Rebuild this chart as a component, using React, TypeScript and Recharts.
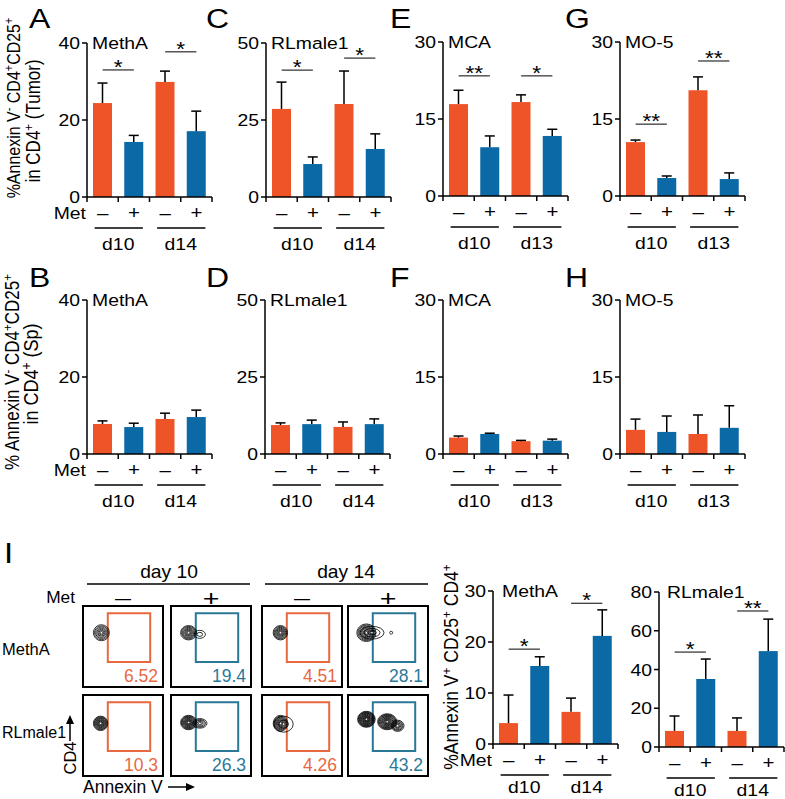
import React from 'react';
import { BarChart, Bar, XAxis, YAxis, ReferenceLine, ScatterChart, Scatter, ReferenceArea } from 'recharts';

const FONT = '"Liberation Sans", Arial, Helvetica, sans-serif';
const ORANGE = '#EE5428';
const BLUE = '#0B6AA6';
const GATE_ORANGE = '#E8683F';
const GATE_BLUE = '#2A7898';
const SX = 1.14;

// ---------- categories ----------
const conditions = ['d1-', 'd1+', 'd2-', 'd2+'];
const metSigns = ['–', '+', '–', '+'];
const daysD14 = ['d10', 'd14'];
const daysD13 = ['d10', 'd13'];

// ---------- A–G: % Annexin V- CD4+CD25+ in CD4+ (Tumor) ----------
const methaTumorMean = [24.4, 14.3, 29.9, 17.1];
const methaTumorErr = [5.2, 1.7, 2.8, 5.2];
const methaTumorSigY = [33.0, 37.7];
const methaTumorSigMark = ['*', '*'];

const rlTumorMean = [28.6, 10.7, 30.2, 15.6];
const rlTumorErr = [8.7, 2.3, 10.7, 4.9];
const rlTumorSigY = [41.2, 45.1];
const rlTumorSigMark = ['*', '*'];

const mcaTumorMean = [17.9, 9.5, 18.3, 11.7];
const mcaTumorErr = [2.7, 2.2, 1.4, 1.3];
const mcaTumorSigY = [23.4, 23.4];
const mcaTumorSigMark = ['**', '*'];

const mo5TumorMean = [10.5, 3.5, 20.6, 3.3];
const mo5TumorErr = [0.4, 0.4, 2.6, 1.2];
const mo5TumorSigY = [14.0, 26.3];
const mo5TumorSigMark = ['**', '**'];

// ---------- B–H: spleen ----------
const methaSpMean = [7.8, 7.0, 9.1, 9.6];
const methaSpErr = [0.8, 1.0, 1.5, 1.8];
const rlSpMean = [9.4, 9.7, 8.8, 9.7];
const rlSpErr = [0.7, 1.3, 1.6, 1.7];
const mcaSpMean = [3.2, 3.9, 2.5, 2.6];
const mcaSpErr = [0.3, 0.15, 0.15, 0.3];
const mo5SpMean = [4.7, 4.3, 3.9, 5.1];
const mo5SpErr = [2.1, 3.1, 3.7, 4.3];

// ---------- I: % Annexin V+ CD25+ CD4+ ----------
const methaApopMean = [4.1, 15.3, 6.3, 21.2];
const methaApopErr = [5.5, 1.8, 2.7, 5.1];
const methaApopSigY = [18.6, 27.6];
const methaApopSigMark = ['*', '*'];

const rlApopMean = [8.3, 35.1, 8.3, 49.5];
const rlApopErr = [7.7, 10.3, 6.7, 16.5];
const rlApopSigY = [49, 70.2];
const rlApopSigMark = ['*', '**'];

// ---------- I: flow cytometry ----------
const flowValuesMethA = ['6.52', '19.4', '4.51', '28.1'];
const flowValuesRL = ['10.3', '26.3', '4.26', '43.2'];
const gateX = [31, 84];
const gateY = [31, 91];
const blobsMethA = [
  [{ x: 23, y: 67, sx: 10, sy: 10, n: 7 }],
  [{ x: 22, y: 67, sx: 10, sy: 9, n: 8 }, { x: 36, y: 65, sx: 7, sy: 5, n: 2 }],
  [{ x: 23, y: 67, sx: 9, sy: 9, n: 8 }],
  [{ x: 23, y: 67, sx: 12, sy: 11, n: 9 }, { x: 30, y: 67, sx: 15, sy: 8, n: 3 }, { x: 54, y: 67, sx: 1.8, sy: 1.8, n: 1 }],
];
const blobsRL = [
  [{ x: 22, y: 65, sx: 9, sy: 9, n: 10 }],
  [{ x: 22, y: 66, sx: 10, sy: 9, n: 11 }, { x: 36, y: 65, sx: 9, sy: 6, n: 5 }],
  [{ x: 23, y: 65, sx: 9, sy: 10, n: 9 }, { x: 27, y: 64, sx: 12, sy: 10, n: 2 }],
  [{ x: 23, y: 70, sx: 11, sy: 10, n: 14 }, { x: 49, y: 67, sx: 12, sy: 10, n: 12 }, { x: 62, y: 62, sx: 8, sy: 7, n: 6 }],
];

// ---------- helpers ----------
function SText({ x, y, size = 16, anchor = 'start', sx = SX, fill = '#000', rotate = false, children }: any) {
  const tf = rotate
    ? `translate(${x},${y}) rotate(-90) scale(1,${sx})`
    : `translate(${x},${y}) scale(${sx},1)`;
  return (
    <text transform={tf} x={0} y={0} fontSize={size} textAnchor={anchor} fill={fill} fontFamily={FONT}>
      {children}
    </text>
  );
}

function rich(parts: [string, number][]) {
  const out: any[] = [];
  let up = false;
  parts.forEach(([t, s], i) => {
    if (s && !up) {
      out.push(<tspan key={i} dy={-6} fontSize="0.68em">{t}</tspan>);
      up = true;
    } else if (!s && up) {
      out.push(<tspan key={i} dy={6}>{t}</tspan>);
      up = false;
    } else {
      out.push(<tspan key={i} fontSize={s ? '0.68em' : undefined}>{t}</tspan>);
    }
  });
  return out;
}

function XTick(props: any) {
  const { x, y, index, band, days, showMet, groupDy } = props;
  const i = index;
  const left = x - band / 2;
  return (
    <g>
      <line x1={left} x2={left} y1={y} y2={y + 5} stroke="#000" strokeWidth={1.5} />
      {i === conditions.length - 1 && (
        <line x1={x + band / 2} x2={x + band / 2} y1={y} y2={y + 5} stroke="#000" strokeWidth={1.5} />
      )}
      <SText x={x} y={y + 22} anchor="middle" size={18}>{metSigns[i]}</SText>
      {i % 2 === 0 && (
        <g>
          <line x1={x - 8} x2={x + band + 9} y1={y + 31} y2={y + 31} stroke="#000" strokeWidth={1.5} />
          <SText x={x + band / 2} y={y + groupDy} anchor="middle" size={17}>{days[i / 2]}</SText>
        </g>
      )}
      {i === 0 && showMet && (
        <SText x={left - 1} y={y + 22} anchor="end" size={17}>Met</SText>
      )}
    </g>
  );
}

function YTick(props: any) {
  const { x, y, payload } = props;
  return (
    <SText x={x} y={y + 6} anchor="end" size={17}>{payload.value}</SText>
  );
}

function ErrBar(props: any) {
  const { x, y, width, height, index, payload } = props;
  if (!payload || width == null) return null;
  const fill = index % 2 === 0 ? ORANGE : BLUE;
  const per = payload.mean ? height / payload.mean : 0;
  const top = y - payload.err * per;
  const cx = x + width / 2;
  return (
    <g>
      <rect x={x} y={y} width={width} height={height} fill={fill} />
      <line x1={cx} x2={cx} y1={y} y2={top} stroke="#000" strokeWidth={1.5} />
      <line x1={cx - 5} x2={cx + 5} y1={top} y2={top} stroke="#000" strokeWidth={1.5} />
    </g>
  );
}

function SigMark(props: any) {
  const { viewBox, mark } = props;
  if (!viewBox) return null;
  const cx = viewBox.x + (viewBox.width || 0) / 2;
  return <SText x={cx} y={viewBox.y + 4} anchor="middle" size={20}>{mark}</SText>;
}

function BarPanel(p: any) {
  const { axisX, topY, plotH, yMax, ticks, mean, err, days, sigY = [], sigMark = [], showMet = false, groupDy = 53, xh = 62 } = p;
  const W = 40, T = 22, R = 6, plotW = 125;
  const data = conditions.map((c, i) => ({ cond: c, mean: mean[i], err: err[i] }));
  const band = plotW / conditions.length;
  return (
    <div style={{ position: 'absolute', left: axisX - W, top: topY - T }}>
      <BarChart width={W + plotW + R} height={T + plotH + xh} data={data}
        margin={{ top: T, right: R, left: 0, bottom: 0 }} barCategoryGap={0}>
        <XAxis dataKey="cond" type="category" interval={0} height={xh} tickLine={false} tickSize={0} tickMargin={0}
          axisLine={{ stroke: '#000', strokeWidth: 1.5 }}
          tick={(tp: any) => <XTick {...tp} band={band} days={days} showMet={showMet} groupDy={groupDy} />} />
        <YAxis width={W} domain={[0, yMax]} ticks={ticks} tickSize={5} tickMargin={2} allowDataOverflow
          axisLine={{ stroke: '#000', strokeWidth: 1.5 }} tickLine={{ stroke: '#000', strokeWidth: 1.5 }}
          tick={(tp: any) => <YTick {...tp} />} />
        <Bar dataKey="mean" barSize={19} isAnimationActive={false} shape={(bp: any) => <ErrBar {...bp} />} />
        {sigY.map((v: number, k: number) => (
          <ReferenceLine key={k} segment={[{ x: conditions[2 * k], y: v }, { x: conditions[2 * k + 1], y: v }]}
            stroke="#000" strokeWidth={1}
            label={(lp: any) => <SigMark {...lp} mark={sigMark[k]} />} />
        ))}
      </BarChart>
    </div>
  );
}

function Contour(props: any) {
  const { cx, cy, payload } = props;
  if (cx == null || !payload) return null;
  const k = 0.8;
  const rings: any[] = [];
  for (let i = 0; i < payload.n; i++) {
    const f = 1 - i / payload.n;
    rings.push(
      <ellipse key={i} cx={cx} cy={cy} rx={payload.sx * k * f} ry={payload.sy * k * f}
        fill="none" stroke="#000" strokeWidth={0.8} />
    );
  }
  return <g>{rings}<circle cx={cx} cy={cy} r={0.8} fill="#fff" /></g>;
}

function FlowPlot({ left, top, color, value, blobs }: any) {
  const w = 80, h = 81;
  return (
    <div style={{ position: 'absolute', left: left - 2, top: top - 2 }}>
      <ScatterChart width={w + 4} height={h + 4} margin={{ top: 2, right: 2, bottom: 2, left: 2 }}>
        <XAxis type="number" dataKey="x" domain={[0, 100]} hide />
        <YAxis type="number" dataKey="y" domain={[0, 100]} hide />
        <ReferenceArea x1={gateX[0]} x2={gateX[1]} y1={gateY[0]} y2={gateY[1]} fill="none" fillOpacity={0}
          stroke={color} strokeWidth={2} strokeOpacity={1} />
        <ReferenceArea x1={0} x2={100} y1={0} y2={100} fill="none" fillOpacity={0} stroke="#000" strokeWidth={2}
          strokeOpacity={1}
          label={{ value, position: 'insideBottomRight', offset: 5, fill: color, fontSize: 17.5 }} />
        <Scatter data={blobs} isAnimationActive={false} shape={(sp: any) => <Contour {...sp} />} />
      </ScatterChart>
    </div>
  );
}

const flowBoxX = [83, 171, 262, 348];
const flowRowY = [606, 695];
const flowColors = [GATE_ORANGE, GATE_BLUE, GATE_ORANGE, GATE_BLUE];

export default function App() {
  const panels = [
    { axisX: 87, topY: 43, plotH: 154, yMax: 40, ticks: [0, 20, 40], title: 'MethA', mean: methaTumorMean, err: methaTumorErr, days: daysD14, sigY: methaTumorSigY, sigMark: methaTumorSigMark, showMet: true },
    { axisX: 266, topY: 43, plotH: 154, yMax: 50, ticks: [0, 25, 50], title: 'RLmale1', mean: rlTumorMean, err: rlTumorErr, days: daysD14, sigY: rlTumorSigY, sigMark: rlTumorSigMark },
    { axisX: 443, topY: 42, plotH: 154, yMax: 30, ticks: [0, 15, 30], title: 'MCA', mean: mcaTumorMean, err: mcaTumorErr, days: daysD13, sigY: mcaTumorSigY, sigMark: mcaTumorSigMark },
    { axisX: 620, topY: 42, plotH: 154, yMax: 30, ticks: [0, 15, 30], title: 'MO-5', mean: mo5TumorMean, err: mo5TumorErr, days: daysD13, sigY: mo5TumorSigY, sigMark: mo5TumorSigMark },
    { axisX: 87, topY: 300, plotH: 154, yMax: 40, ticks: [0, 20, 40], title: 'MethA', mean: methaSpMean, err: methaSpErr, days: daysD14, showMet: true },
    { axisX: 265, topY: 300, plotH: 154, yMax: 50, ticks: [0, 25, 50], title: 'RLmale1', mean: rlSpMean, err: rlSpErr, days: daysD14 },
    { axisX: 443, topY: 300, plotH: 154, yMax: 30, ticks: [0, 15, 30], title: 'MCA', mean: mcaSpMean, err: mcaSpErr, days: daysD13 },
    { axisX: 620, topY: 300, plotH: 154, yMax: 30, ticks: [0, 15, 30], title: 'MO-5', mean: mo5SpMean, err: mo5SpErr, days: daysD13 },
    { axisX: 493, topY: 591, plotH: 153, yMax: 30, ticks: [0, 10, 20, 30], title: 'MethA', mean: methaApopMean, err: methaApopErr, days: daysD14, sigY: methaApopSigY, sigMark: methaApopSigMark, showMet: true, groupDy: 49, xh: 56, titleDx: 9 },
    { axisX: 659, topY: 592, plotH: 155, yMax: 80, ticks: [0, 20, 40, 60, 80], title: 'RLmale1', mean: rlApopMean, err: rlApopErr, days: daysD14, sigY: rlApopSigY, sigMark: rlApopSigMark, groupDy: 49, xh: 52, titleDx: 8 },
  ];

  const letters = [
    ['A', 29, 28], ['C', 206, 28], ['E', 390, 28], ['G', 565, 28],
    ['B', 29, 287], ['D', 206, 287], ['F', 390, 287], ['H', 565, 287],
  ];

  return (
    <div style={{ position: 'absolute', left: 0, top: 0, width: 785, height: 799, overflow: 'hidden', background: '#fff', fontFamily: FONT }}>
      {panels.map((p, i) => <BarPanel key={i} {...p} />)}
      {flowRowY.map((ry, r) => flowBoxX.map((bx, c) => (
        <FlowPlot key={`${r}-${c}`} left={bx} top={ry} color={flowColors[c]}
          value={(r === 0 ? flowValuesMethA : flowValuesRL)[c]}
          blobs={(r === 0 ? blobsMethA : blobsRL)[c]} />
      )))}
      <svg width={785} height={799} style={{ position: 'absolute', left: 0, top: 0, pointerEvents: 'none' }}>
        {letters.map(([t, x, y]) => (
          <SText key={t as string} x={x} y={y} size={28}>{t}</SText>
        ))}
        <SText x={4} y={563} size={29}>I</SText>

        {panels.map((p: any, i) => (
          <SText key={i} x={p.axisX + (p.titleDx || 5)} y={p.topY + 6} size={17}>{p.title}</SText>
        ))}

        <SText x={20} y={108} size={16} anchor="middle" rotate>
          {rich([['%Annexin V', 0], ['-', 1], [' CD4', 0], ['+', 1], ['CD25', 0], ['+', 1]])}
        </SText>
        <SText x={40} y={121} size={17} anchor="middle" rotate>
          {rich([['in CD4', 0], ['+', 1], [' (Tumor)', 0]])}
        </SText>
        <SText x={19} y={372} size={17} anchor="middle" rotate>
          {rich([['% Annexin V', 0], ['-', 1], [' CD4', 0], ['+', 1], ['CD25', 0], ['+', 1]])}
        </SText>
        <SText x={38} y={374} size={18} anchor="middle" rotate>
          {rich([['in CD4', 0], ['+', 1], [' (Sp)', 0]])}
        </SText>
        <SText x={458} y={667} size={17.5} anchor="middle" rotate>
          {rich([['%Annexin V', 0], ['+', 1], [' CD25', 0], ['+', 1], [' CD4', 0], ['+', 1]])}
        </SText>

        {/* flow headers */}
        <SText x={169} y={578} size={17.5} anchor="middle" sx={1.1}>day 10</SText>
        <line x1={87} x2={250} y1={584} y2={584} stroke="#000" strokeWidth={1.5} />
        <SText x={346} y={578} size={17.5} anchor="middle" sx={1.1}>day 14</SText>
        <line x1={265} x2={428} y1={584} y2={584} stroke="#000" strokeWidth={1.5} />
        <SText x={75} y={603} size={16.5} anchor="end" sx={1.05}>Met</SText>
        {flowBoxX.map((bx, c) => (
          <SText key={c} x={bx + 40} y={c % 2 === 0 ? 604 : 606} size={c % 2 === 0 ? 16 : 22} anchor="middle" sx={c % 2 === 0 ? 1 : 1.3}>
            {c % 2 === 0 ? '—' : '+'}
          </SText>
        ))}
        <SText x={2} y={655} size={16.5} sx={1}>MethA</SText>
        <SText x={2} y={738} size={16} sx={1}>RLmale1</SText>
        <SText x={76} y={758} size={16.5} anchor="middle" rotate sx={1}>CD4</SText>
        <line x1={70} x2={70} y1={741} y2={722} stroke="#000" strokeWidth={1.5} />
        <polygon points="70,715 66,724 74,724" fill="#000" />
        <SText x={83} y={793} size={17.5} sx={1}>Annexin V</SText>
        <line x1={168} x2={187} y1={787} y2={787} stroke="#000" strokeWidth={1.5} />
        <polygon points="195,787 186,783 186,791" fill="#000" />
      </svg>
    </div>
  );
}
